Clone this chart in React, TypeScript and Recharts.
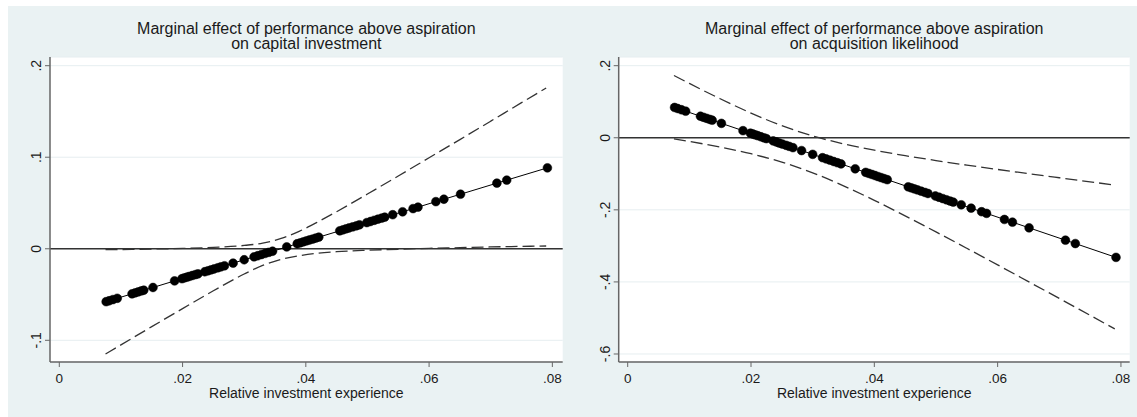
import React from 'react'
import { ComposedChart, Line, XAxis, YAxis, CartesianGrid, ReferenceLine } from 'recharts'

// relative investment experience of the observed firms (shared by both panels)
const experience = [
  0.0076, 0.0081, 0.0087, 0.0094, 0.0118, 0.0123, 0.0128, 0.0133, 0.0137, 0.0152,
  0.0187, 0.0199, 0.0203, 0.0207, 0.0211, 0.0216, 0.0221, 0.0225,
  0.0236, 0.0241, 0.0246, 0.0251, 0.0257, 0.0262, 0.0268, 0.0282, 0.03,
  0.0316, 0.0322, 0.0328, 0.0334, 0.034, 0.0346, 0.0369,
  0.0386, 0.0391, 0.0396, 0.0401, 0.0406, 0.0411, 0.0416, 0.0421,
  0.0455, 0.046, 0.0465, 0.047, 0.0476, 0.0482, 0.0487,
  0.0499, 0.0505, 0.0511, 0.0517, 0.0523, 0.0528,
  0.0541, 0.0557, 0.0574, 0.0582, 0.0611, 0.0624, 0.0651, 0.071, 0.0726, 0.0792,
]

const capitalEffect = [
  -0.0578, -0.0568, -0.0555, -0.0541, -0.0492, -0.0482, -0.0472, -0.0461, -0.0453, -0.0423,
  -0.0351, -0.0327, -0.0318, -0.031, -0.0302, -0.0292, -0.0282, -0.0274,
  -0.0251, -0.0241, -0.0231, -0.0221, -0.0208, -0.0198, -0.0186, -0.0157, -0.012,
  -0.0088, -0.0076, -0.0063, -0.0051, -0.0039, -0.0027, 0.002,
  0.0055, 0.0065, 0.0076, 0.0086, 0.0096, 0.0106, 0.0117, 0.0127,
  0.0196, 0.0206, 0.0217, 0.0227, 0.0239, 0.0251, 0.0262,
  0.0286, 0.0298, 0.0311, 0.0323, 0.0335, 0.0345,
  0.0372, 0.0404, 0.0439, 0.0455, 0.0515, 0.0541, 0.0596, 0.0717, 0.075, 0.0884,
]

const acquisitionEffect = [
  0.0841, 0.0812, 0.0778, 0.0737, 0.0597, 0.0568, 0.0539, 0.051, 0.0487, 0.04,
  0.0197, 0.0127, 0.0104, 0.008, 0.0057, 0.0028, -0.0001, -0.0024,
  -0.0088, -0.0117, -0.0146, -0.0175, -0.021, -0.0239, -0.0274, -0.0355, -0.046,
  -0.0553, -0.0588, -0.0623, -0.0658, -0.0692, -0.0727, -0.0861,
  -0.096, -0.0989, -0.1018, -0.1047, -0.1076, -0.1105, -0.1134, -0.1163,
  -0.1361, -0.139, -0.1419, -0.1448, -0.1483, -0.1517, -0.1546,
  -0.1616, -0.1651, -0.1686, -0.1721, -0.1756, -0.1785,
  -0.186, -0.1953, -0.2052, -0.2098, -0.2267, -0.2342, -0.2499, -0.2842, -0.2935, -0.3319,
]

// confidence bands
const capitalBandX = [0.0075, 0.01, 0.015, 0.02, 0.025, 0.03, 0.033, 0.036, 0.039, 0.042, 0.045, 0.05, 0.055, 0.06, 0.065, 0.07, 0.075, 0.079]
const capitalUpper = [-0.001, -0.0008, -0.0003, 0.0004, 0.0015, 0.0036, 0.0062, 0.0113, 0.0193, 0.0295, 0.0405, 0.0598, 0.0795, 0.0994, 0.1193, 0.1394, 0.1596, 0.1756]
const capitalLower = [-0.115, -0.105, -0.0851, -0.0654, -0.0459, -0.0276, -0.0182, -0.0115, -0.0075, -0.0048, -0.0032, -0.0016, -0.0005, 0.0005, 0.0012, 0.002, 0.0026, 0.003]

const acquisitionBandX = [0.0075, 0.01, 0.015, 0.02, 0.025, 0.03, 0.035, 0.04, 0.045, 0.05, 0.055, 0.06, 0.065, 0.07, 0.075, 0.079]
const acquisitionUpper = [0.1727, 0.1507, 0.1082, 0.0685, 0.0335, 0.0052, -0.0169, -0.0346, -0.0497, -0.0632, -0.0759, -0.0879, -0.0996, -0.111, -0.1223, -0.1312]
const acquisitionLower = [-0.0033, -0.0103, -0.0258, -0.0443, -0.0675, -0.0972, -0.1333, -0.1736, -0.2167, -0.2612, -0.3067, -0.3527, -0.3992, -0.4458, -0.4927, -0.5302]

const xTicks = [0, 0.02, 0.04, 0.06, 0.08]
const xTickLabels = ['0', '.02', '.04', '.06', '.08']
const capitalYTicks = [-0.1, 0, 0.1, 0.2]
const capitalYLabels = ['-.1', '0', '.1', '.2']
const acquisitionYTicks = [-0.6, -0.4, -0.2, 0, 0.2]
const acquisitionYLabels = ['-.6', '-.4', '-.2', '0', '.2']

const FONT = '"Liberation Sans", Arial, Helvetica, sans-serif'
const INK = '#1a1a1a'
const AXIS = '#666'

const toRows = (xs: number[], ys: number[]) => xs.map((x, i) => ({ x, y: ys[i] }))

const labelFor = (ticks: number[], labels: string[], v: number) => {
  const i = ticks.findIndex((t) => Math.abs(t - v) < 1e-9)
  return i >= 0 ? labels[i] : ''
}

function Panel({ left, width, title, points, upper, lower, xDomain, yDomain, yTicks, yLabels }: any) {
  const plotLeft = left === 0 ? 50 : 48.7
  const plotRight = 7.3
  const plotW = width - plotLeft - plotRight
  return (
    <div style={{ position: 'absolute', left, top: 0, width, height: 417 }}>
      <div
        style={{
          position: 'absolute', left: plotLeft, width: plotW, top: 21, textAlign: 'center',
          fontFamily: FONT, fontSize: 16, lineHeight: '15px', color: INK,
        }}
      >
        {title.map((t: string) => <div key={t}>{t}</div>)}
      </div>
      <ComposedChart
        width={width}
        height={417}
        margin={{ top: 57, right: plotRight, bottom: 25, left: plotLeft - 40 }}
      >
        <CartesianGrid horizontal vertical={false} fill="#fff" stroke="#e6eef0" strokeWidth={1} />
        <XAxis
          type="number"
          dataKey="x"
          domain={xDomain}
          ticks={xTicks}
          allowDataOverflow
          height={30}
          tickSize={5}
          tickMargin={6}
          stroke={AXIS}
          axisLine={{ stroke: AXIS, strokeWidth: 1.5 }}
          tickLine={{ stroke: AXIS }}
          tick={(p: any) => (
            <text x={p.x} y={p.y} dy="0.71em" textAnchor="middle" fontSize={13.5} fontFamily={FONT} fill={INK}>
              {labelFor(xTicks, xTickLabels, p.payload.value)}
            </text>
          )}
        />
        <YAxis
          type="number"
          dataKey="y"
          domain={yDomain}
          ticks={yTicks}
          allowDataOverflow
          width={40}
          tickSize={5}
          tickMargin={2}
          axisLine={{ stroke: AXIS, strokeWidth: 1.5 }}
          tickLine={{ stroke: AXIS }}
          tick={(p: any) => (
            <g transform={`translate(${p.x - 7},${p.y}) rotate(-90)`}>
              <text x={0} y={0} dy="0.35em" textAnchor="middle" fontSize={14} fontFamily={FONT} fill={INK}>
                {labelFor(yTicks, yLabels, p.payload.value)}
              </text>
            </g>
          )}
        />
        <ReferenceLine y={0} stroke="#333" strokeWidth={1.5} />
        <Line data={upper} dataKey="y" type="monotone" stroke="#333" strokeWidth={1.3} strokeDasharray="12 5" dot={false} isAnimationActive={false} />
        <Line data={lower} dataKey="y" type="monotone" stroke="#333" strokeWidth={1.3} strokeDasharray="12 5" dot={false} isAnimationActive={false} />
        <Line
          data={points}
          dataKey="y"
          type="linear"
          stroke="#000"
          strokeWidth={1}
          dot={{ r: 4.4, fill: '#000', stroke: '#000', strokeWidth: 0.5 }}
          activeDot={false}
          isAnimationActive={false}
        />
      </ComposedChart>
      <div
        style={{
          position: 'absolute', left: plotLeft, width: plotW, top: 386, textAlign: 'center',
          fontFamily: FONT, fontSize: 14, lineHeight: '15px', color: INK,
        }}
      >
        Relative investment experience
      </div>
    </div>
  )
}

export default function App() {
  return (
    <div style={{ position: 'absolute', left: 0, top: 0, width: 1137, height: 417, background: '#fff', overflow: 'hidden' }}>
      <div style={{ position: 'absolute', left: 8, top: 6, right: 0, bottom: 0, background: '#eaf2f3' }} />
      <Panel
        left={0}
        width={570}
        title={['Marginal effect of performance above aspiration', 'on capital investment']}
        points={toRows(experience, capitalEffect)}
        upper={toRows(capitalBandX, capitalUpper)}
        lower={toRows(capitalBandX, capitalLower)}
        xDomain={[-0.00151, 0.08168]}
        yDomain={[-0.1237, 0.2095]}
        yTicks={capitalYTicks}
        yLabels={capitalYLabels}
      />
      <Panel
        left={570}
        width={567}
        title={['Marginal effect of performance above aspiration', 'on acquisition likelihood']}
        points={toRows(experience, acquisitionEffect)}
        upper={toRows(acquisitionBandX, acquisitionUpper)}
        lower={toRows(acquisitionBandX, acquisitionLower)}
        xDomain={[-0.00146, 0.08142]}
        yDomain={[-0.6222, 0.2241]}
        yTicks={acquisitionYTicks}
        yLabels={acquisitionYLabels}
      />
    </div>
  )
}
